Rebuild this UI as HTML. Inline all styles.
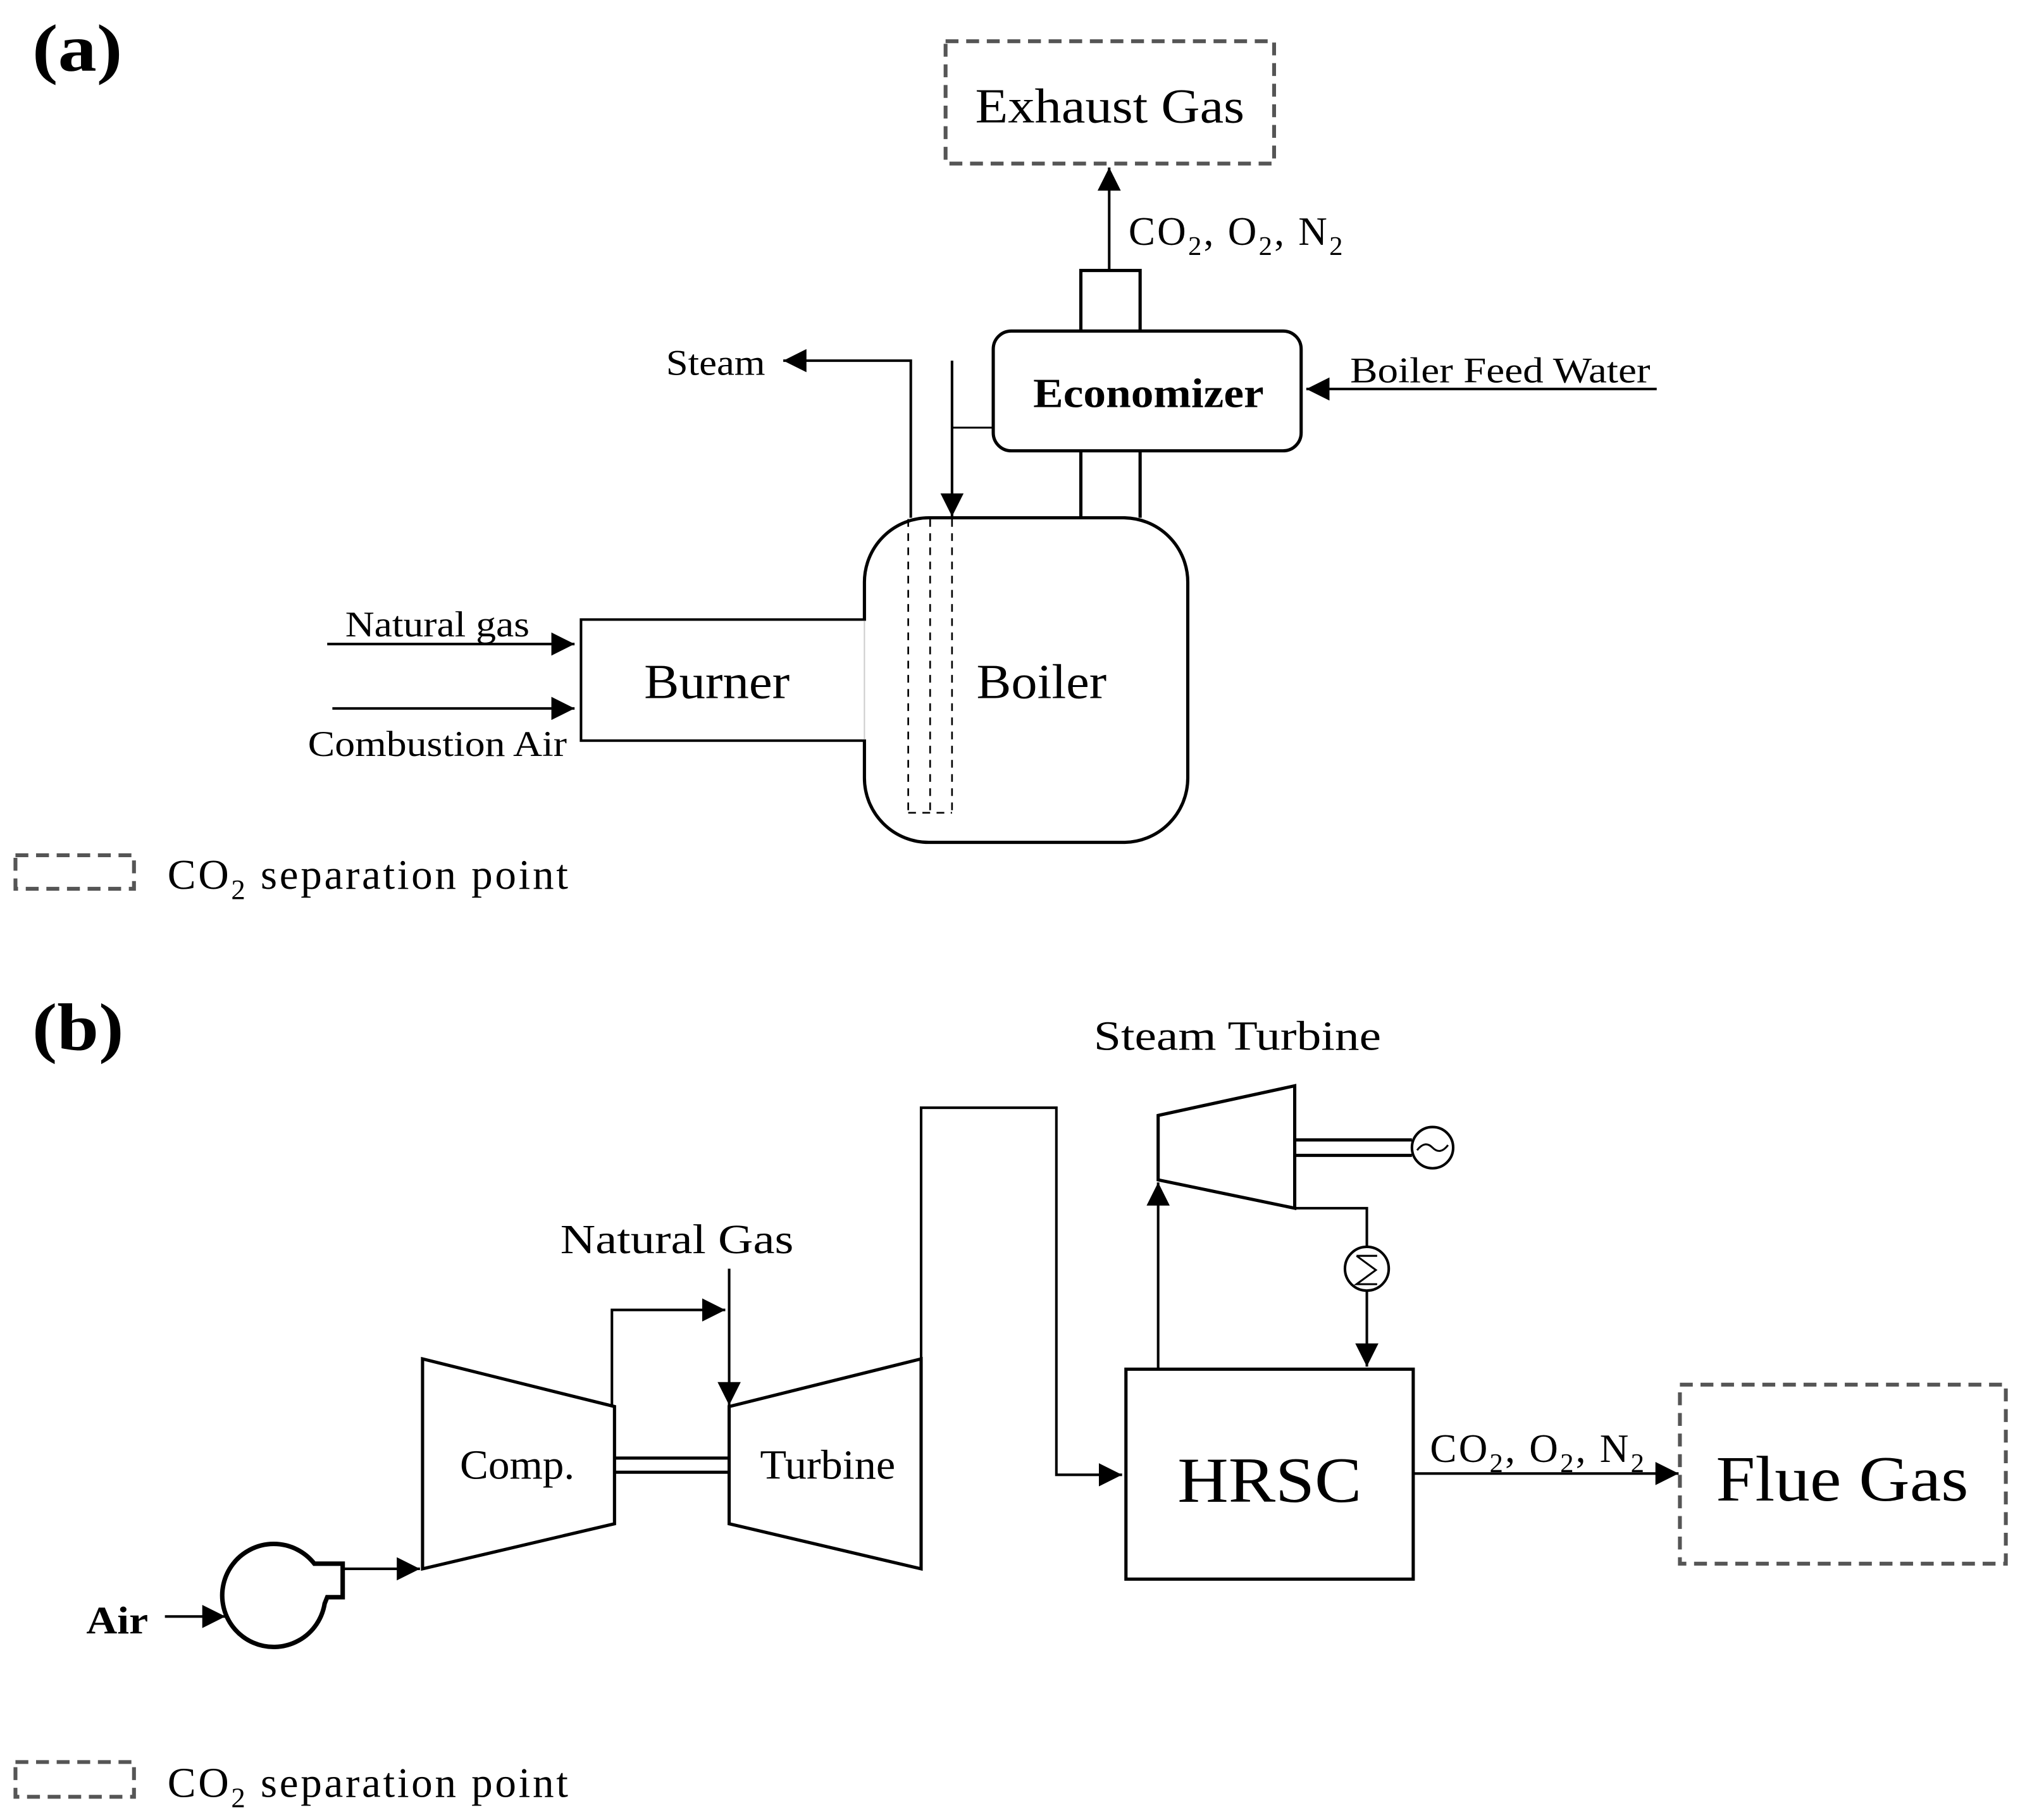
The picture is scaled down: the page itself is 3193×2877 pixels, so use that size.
<!DOCTYPE html>
<html><head><meta charset="utf-8"><style>
html,body{margin:0;padding:0;background:#fff;}
svg{display:block;}
text{font-family:"Liberation Serif",serif;fill:#000;}
</style></head><body>
<svg width="3193" height="2877" viewBox="0 0 1568 1413" preserveAspectRatio="none" xmlns="http://www.w3.org/2000/svg">
<defs>
<marker id="ab" viewBox="0 0 10 10" refX="10" refY="5" markerWidth="18" markerHeight="18" markerUnits="userSpaceOnUse" orient="auto">
<path d="M0,0 L10,5 L0,10 z" fill="#000"/></marker>
</defs>
<g fill="none" stroke="#000" stroke-width="2">
<!-- (a) -->
<rect x="734" y="32" width="255" height="95" stroke="#555" stroke-width="3" stroke-dasharray="10,6"/>
<line x1="861" y1="210" x2="861" y2="130" marker-end="url(#ab)"/>
<path d="M839,258 V210 H885 V258" stroke-width="2.5"/>
<rect x="771" y="257" width="239" height="93" rx="14" stroke-width="2.5"/>
<line x1="1286" y1="302" x2="1014" y2="302" marker-end="url(#ab)"/>
<path d="M839,350 V402 M885,350 V402" stroke-width="2.5"/>
<rect x="671" y="402" width="251" height="252" rx="50" stroke-width="2.5"/>
<path d="M671,481 H451 V575 H671" stroke-width="2"/>
<line x1="671" y1="482" x2="671" y2="574" stroke="#fff" stroke-width="3"/>
<line x1="671" y1="482" x2="671" y2="574" stroke="#ccc" stroke-width="1"/>
<line x1="254" y1="500" x2="446" y2="500" marker-end="url(#ab)"/>
<line x1="258" y1="550" x2="446" y2="550" marker-end="url(#ab)"/>
<path d="M707,402 V280 H608" marker-end="url(#ab)"/>
<line x1="739" y1="280" x2="739" y2="401" marker-end="url(#ab)"/>
<line x1="739" y1="332" x2="771" y2="332" stroke-width="1.5"/>
<g stroke-width="1.3" stroke-dasharray="6,5">
<line x1="705" y1="403" x2="705" y2="631"/>
<line x1="722" y1="403" x2="722" y2="631"/>
<line x1="739" y1="403" x2="739" y2="631"/>
<line x1="705" y1="631" x2="739" y2="631"/>
</g>
<rect x="12" y="664" width="92" height="26" stroke="#555" stroke-width="3" stroke-dasharray="10,6"/>
<!-- (b) -->
<polygon points="899,866 1005,843 1005,938 899,916" stroke-width="2.5"/>
<path d="M1005,885 H1096 M1005,897 H1096" stroke-width="2.5"/>
<circle cx="1112" cy="891" r="16"/>
<path d="M1100,893 q6,-8 12,-2 t12,-2" stroke-width="1.5"/>
<line x1="899" y1="1063" x2="899" y2="918" marker-end="url(#ab)"/>
<path d="M1005,938 H1061 V968"/>
<circle cx="1061" cy="985" r="17"/>
<path d="M1053,975 H1069 M1053,975 L1068,986 L1053,997 H1069" stroke-width="1.5"/>
<line x1="1061" y1="1002" x2="1061" y2="1061" marker-end="url(#ab)"/>
<rect x="874" y="1063" width="223" height="163" stroke-width="2.5"/>
<line x1="1097" y1="1144" x2="1303" y2="1144" marker-end="url(#ab)"/>
<rect x="1304" y="1075" width="253" height="139" stroke="#555" stroke-width="3" stroke-dasharray="10,6"/>
<path d="M715,1056 V860 H820 V1145 H871" marker-end="url(#ab)"/>
<polygon points="328,1055 477,1092 477,1183 328,1218" stroke-width="2.5"/>
<polygon points="566,1092 715,1055 715,1218 566,1183" stroke-width="2.5"/>
<path d="M477,1132 H566 M477,1143 H566" stroke-width="2.5"/>
<path d="M475,1092 V1017 H563" marker-end="url(#ab)"/>
<line x1="566" y1="985" x2="566" y2="1091" marker-end="url(#ab)"/>
<path d="M252,1245 A40,40 0 1 1 244,1214 H266 V1240 H254 Z" stroke-width="3.5"/>
<line x1="266" y1="1218" x2="326" y2="1218" marker-end="url(#ab)"/>
<line x1="128" y1="1255" x2="175" y2="1255" marker-end="url(#ab)"/>
<rect x="12" y="1368" width="92" height="27" stroke="#555" stroke-width="3" stroke-dasharray="10,6"/>
</g>
<!-- text -->
<text x="25" y="55" font-size="52" font-weight="bold" textLength="70" lengthAdjust="spacingAndGlyphs">(a)</text>
<text x="757" y="95" font-size="38" textLength="209" lengthAdjust="spacingAndGlyphs">Exhaust Gas</text>
<text x="876" y="190" font-size="31" letter-spacing="1.6">CO<tspan font-size="21" dy="8">2</tspan><tspan dy="-8">, O</tspan><tspan font-size="21" dy="8">2</tspan><tspan dy="-8">, N</tspan><tspan font-size="21" dy="8">2</tspan></text>
<text x="802" y="316" font-size="32" font-weight="bold" textLength="179" lengthAdjust="spacingAndGlyphs">Economizer</text>
<text x="1048" y="297" font-size="28" textLength="233" lengthAdjust="spacingAndGlyphs">Boiler Feed Water</text>
<text x="517" y="291" font-size="28" textLength="77" lengthAdjust="spacingAndGlyphs">Steam</text>
<text x="758" y="542" font-size="38" textLength="101" lengthAdjust="spacingAndGlyphs">Boiler</text>
<text x="500" y="542" font-size="38" textLength="113" lengthAdjust="spacingAndGlyphs">Burner</text>
<text x="268" y="494" font-size="28" textLength="143" lengthAdjust="spacingAndGlyphs">Natural gas</text>
<text x="239" y="587" font-size="28" textLength="201" lengthAdjust="spacingAndGlyphs">Combustion Air</text>
<text x="130" y="690" font-size="33" letter-spacing="1.8">CO<tspan font-size="22" dy="8">2</tspan><tspan dy="-8"> separation point</tspan></text>
<text x="25" y="815" font-size="52" font-weight="bold" textLength="71" lengthAdjust="spacingAndGlyphs">(b)</text>
<text x="849" y="815" font-size="32" textLength="223" lengthAdjust="spacingAndGlyphs">Steam Turbine</text>
<text x="914" y="1166" font-size="50" textLength="143" lengthAdjust="spacingAndGlyphs">HRSC</text>
<text x="1110" y="1135" font-size="31" letter-spacing="1.6">CO<tspan font-size="21" dy="8">2</tspan><tspan dy="-8">, O</tspan><tspan font-size="21" dy="8">2</tspan><tspan dy="-8">, N</tspan><tspan font-size="21" dy="8">2</tspan></text>
<text x="1332" y="1165" font-size="50" textLength="196" lengthAdjust="spacingAndGlyphs">Flue Gas</text>
<text x="357" y="1148" font-size="32" textLength="89" lengthAdjust="spacingAndGlyphs">Comp.</text>
<text x="590" y="1148" font-size="32" textLength="105" lengthAdjust="spacingAndGlyphs">Turbine</text>
<text x="435" y="973" font-size="32" textLength="181" lengthAdjust="spacingAndGlyphs">Natural Gas</text>
<text x="67" y="1268" font-size="30" font-weight="bold" textLength="48" lengthAdjust="spacingAndGlyphs">Air</text>
<text x="130" y="1395" font-size="33" letter-spacing="1.8">CO<tspan font-size="22" dy="8">2</tspan><tspan dy="-8"> separation point</tspan></text>
</svg>
</body></html>
